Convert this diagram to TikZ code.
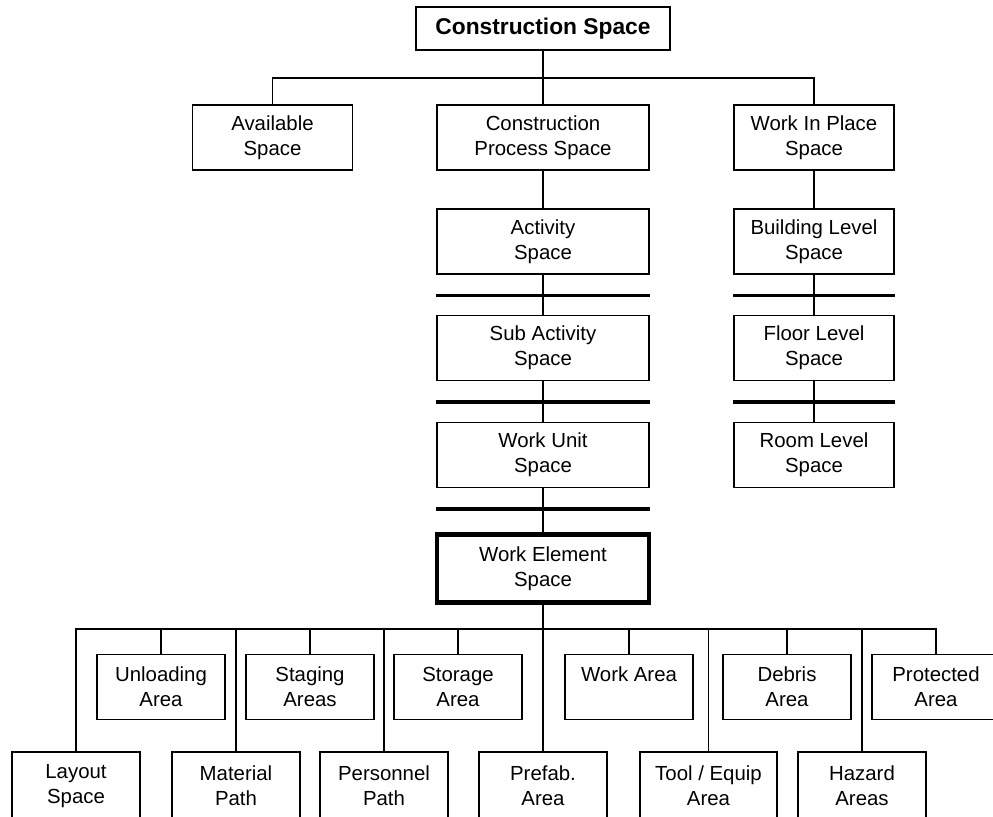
\documentclass[tikz,border=0pt]{standalone}
\usepackage{fontspec}
\setmainfont{Liberation Sans}
\usetikzlibrary{positioning}

\tikzset{
  space/.style={draw, line width=0.8pt, align=center, inner sep=0pt,
    minimum height=1.625cm, font=\fontsize{14.5}{17.8}\selectfont},
  wide/.style={space, minimum width=5.3cm},
  mid/.style={space, minimum width=4cm},
  small/.style={space, minimum width=3.2cm},
  low/.style={small, minimum height=1.7cm},
  link/.style={line width=0.8pt},
  bar/.style={line width=2.4pt},
}

\begin{document}
\begin{tikzpicture}[x=0.025cm, y=-0.025cm]
\clip (0,0) rectangle (993,816);

% top levels
\node[space, minimum width=6.35cm, minimum height=1.075cm,
  font=\bfseries\fontsize{16.2}{18}\selectfont] (cs) at (543,28.5) {Construction Space};
\node[mid]  (avail) at (272.5,137.5) {Available\\Space};
\node[wide] (proc)  at (543,137.5) {Construction\\Process Space};
\node[mid]  (wip)   at (814,137.5) {Work In Place\\Space};

\node[wide] (act)  at (543,241.5) {Activity\\Space};
\node[wide] (sub)  at (543,348) {Sub Activity\\Space};
\node[wide] (unit) at (543,455) {Work Unit\\Space};
\node[wide, line width=3pt, minimum height=1.7cm] (elem) at (543,568.5) {Work Element\\Space};

\node[mid] (bldg)  at (814,241.5) {Building Level\\Space};
\node[mid] (floor) at (814,348) {Floor Level\\Space};
\node[mid] (room)  at (814,455) {Room Level\\Space};

\coordinate (hub) at (543,78);
\draw[link] (cs) -- (proc);
\draw[link] (avail.north) |- (hub) -| (wip.north);
\draw[link] (proc) -- (act);
\draw[link] (act) -- (sub);
\draw[link] (sub) -- (unit);
\draw[link] (unit) -- (elem);
\draw[link] (wip) -- (bldg);
\draw[link] (bldg) -- (floor);
\draw[link] (floor) -- (room);

\foreach \n in {act,sub,unit,bldg,floor}
  \draw[bar] ([yshift=-0.525cm]\n.south west) -- ([yshift=-0.525cm]\n.south east);

% areas
\node[small] (unload)  at (161,687) {Unloading\\Area};
\node[small] (staging) at (310,687) {Staging\\Areas};
\node[small] (storage) at (458,687) {Storage\\Area};
\node[small] (warea)   at (629,687) {Work Area\\\mbox{}};
\node[small] (debris)  at (787,687) {Debris\\Area};
\node[small] (protect) at (936,687) {Protected\\Area};

\node[low] (layout)    at (76,786) {Layout\\Space};
\node[low] (material)  at (236,786) {Material\\Path};
\node[low] (personnel) at (384,786) {Personnel\\Path};
\node[low] (prefab)    at (543,786) {Prefab.\\Area};
\node[low, minimum width=3.425cm] (tool) at (708.5,786) {Tool / Equip\\Area};
\node[low] (hazard)    at (862,786) {Hazard\\Areas};

\coordinate (rail) at (543,629);
\draw[link] (layout.north) |- (rail) -| (protect.north);
\draw[link] (elem) -- (prefab);
\foreach \n in {unload,staging,storage,warea,debris,material,personnel,tool,hazard}
  \draw[link] (\n.north) -- (\n.north |- rail);

\end{tikzpicture}
\end{document}
